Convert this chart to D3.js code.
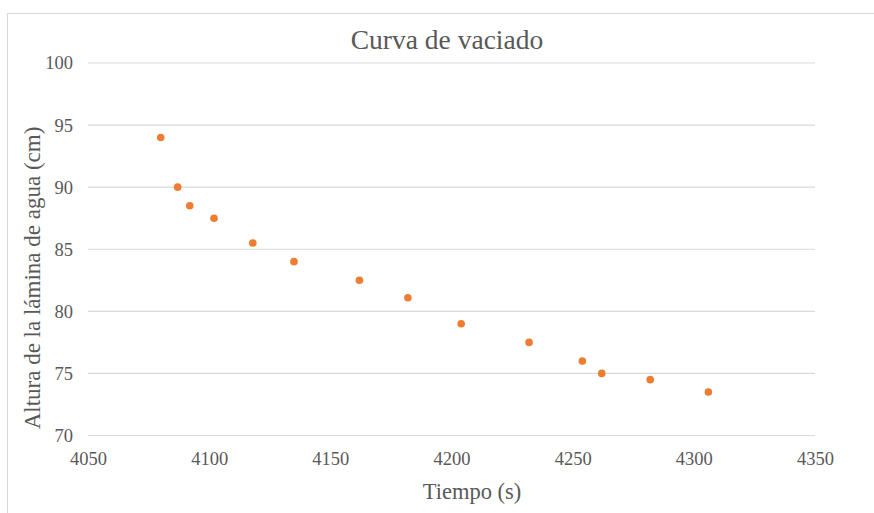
<!DOCTYPE html>
<html>
<head>
<meta charset="utf-8">
<script src="https://cdn.jsdelivr.net/npm/d3@7"></script>
<style>
  html, body { margin: 0; padding: 0; background: #fff; }
  svg { display: block; }
  text { font-family: "Liberation Serif", "Times New Roman", serif; fill: #595959; }
</style>
</head>
<body>
<svg id="chart" width="874" height="513"></svg>
<script>
// Emptying curve: water level versus elapsed time
const tiempo = [4080, 4087, 4092, 4102, 4118, 4135, 4162, 4182, 4204, 4232, 4254, 4262, 4282, 4306];
const altura = [94.0, 90.0, 88.5, 87.5, 85.5, 84.0, 82.5, 81.1, 79.0, 77.5, 76.0, 75.0, 74.5, 73.5];
const xTicks = [4050, 4100, 4150, 4200, 4250, 4300, 4350];
const yTicks = [70, 75, 80, 85, 90, 95, 100];

const serif = '"Liberation Serif", "Times New Roman", serif';
const svg = d3.select("#chart");

// chart frame
svg.append("rect")
  .attr("x", 7.5).attr("y", 13.5)
  .attr("width", 900).attr("height", 520)
  .attr("fill", "#fff")
  .attr("stroke", "#d9d9d9").attr("stroke-width", 1);

const x = d3.scaleLinear().domain([4050, 4350]).range([88, 815]);
const y = d3.scaleLinear().domain([70, 100]).range([435.5, 63]);

// horizontal gridlines
svg.append("g")
  .selectAll("line")
  .data(yTicks)
  .join("line")
  .attr("x1", x.range()[0]).attr("x2", x.range()[1])
  .attr("y1", d => y(d)).attr("y2", d => y(d))
  .attr("stroke", "#d9d9d9").attr("stroke-width", 1.2);

// y axis labels
const yAxis = d3.axisLeft(y).tickValues(yTicks).tickSize(0).tickPadding(15);
svg.append("g")
  .attr("transform", `translate(${x.range()[0]},0)`)
  .call(yAxis)
  .attr("font-family", serif).attr("font-size", 18.5)
  .call(g => g.select(".domain").remove())
  .call(g => g.selectAll("text").attr("fill", "#595959"));

// x axis labels
const xAxis = d3.axisBottom(x).tickValues(xTicks).tickFormat(d3.format("d")).tickSize(0).tickPadding(16);
svg.append("g")
  .attr("transform", `translate(0,${y(70)})`)
  .call(xAxis)
  .attr("font-family", serif).attr("font-size", 18.5)
  .call(g => g.select(".domain").remove())
  .call(g => g.selectAll("text").attr("fill", "#595959"));

// points
svg.append("g")
  .selectAll("circle")
  .data(tiempo.map((t, i) => [t, altura[i]]))
  .join("circle")
  .attr("cx", d => x(d[0]))
  .attr("cy", d => y(d[1]))
  .attr("r", 3.8)
  .attr("fill", "#ED7D31");

// titles
svg.append("text")
  .attr("x", 447).attr("y", 49)
  .attr("text-anchor", "middle")
  .style("font-size", "27.5px")
  .text("Curva de vaciado");

svg.append("text")
  .attr("x", 472).attr("y", 499)
  .attr("text-anchor", "middle")
  .style("font-size", "22.5px")
  .text("Tiempo (s)");

svg.append("text")
  .attr("transform", "translate(40,278) rotate(-90)")
  .attr("text-anchor", "middle")
  .style("font-size", "23px")
  .text("Altura de la lámina de agua (cm)");
</script>
</body>
</html>
